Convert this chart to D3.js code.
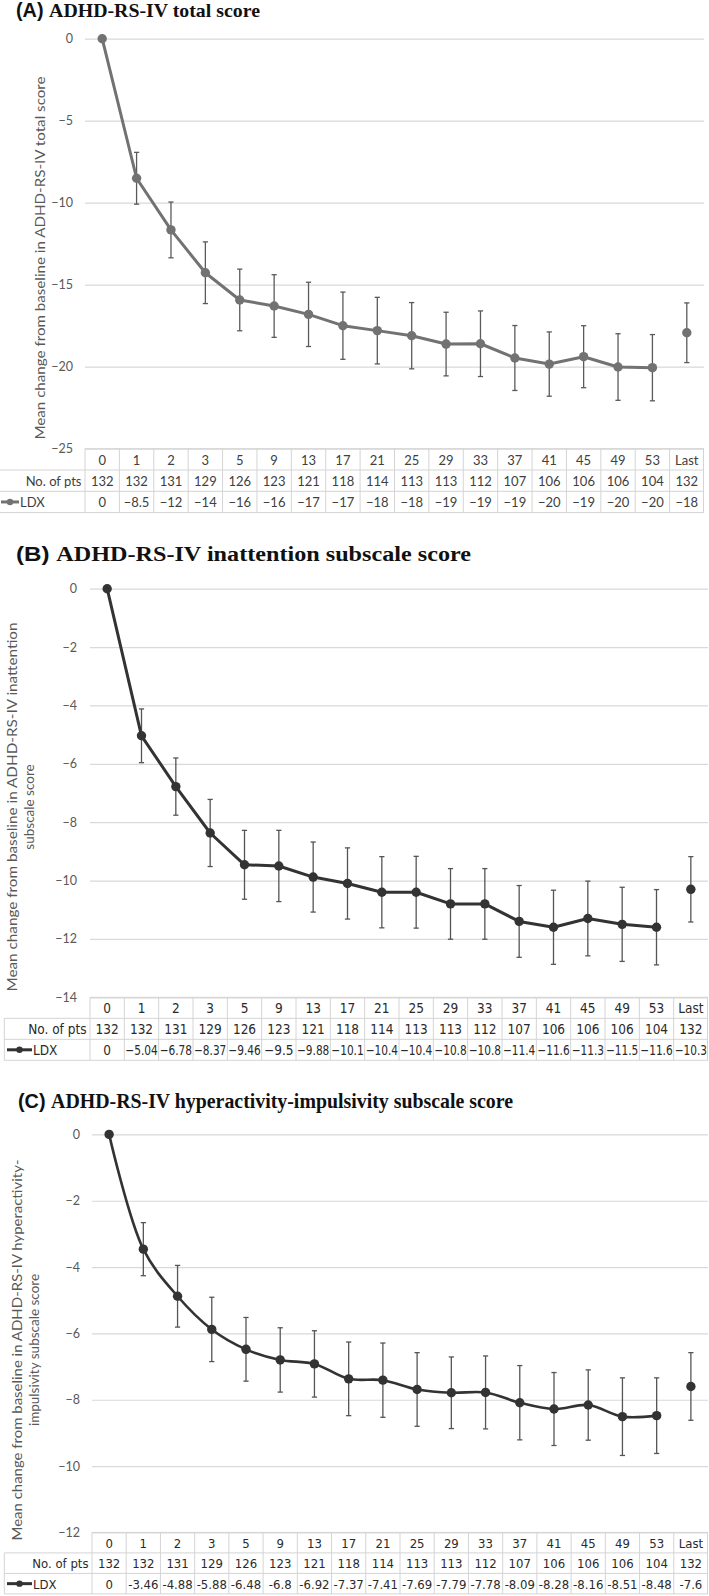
<!DOCTYPE html>
<html><head><meta charset="utf-8">
<script src="https://cdn.jsdelivr.net/npm/d3@7"></script>
<style>body{margin:0;background:#fff}svg{display:block}</style>
</head><body><svg id="c"></svg>
<script>
// ---------- data ----------
const weeks = ["0","1","2","3","5","9","13","17","21","25","29","33","37","41","45","49","53","Last"];
const nPts = [132,132,131,129,126,123,121,118,114,113,113,112,107,106,106,106,104,132];

const totalMean = [0,-8.51,-11.66,-14.27,-15.93,-16.30,-16.81,-17.50,-17.80,-18.11,-18.62,-18.60,-19.47,-19.84,-19.39,-20.02,-20.06,-17.93];
const totalErr  = [0,1.58,1.70,1.88,1.88,1.91,1.96,2.05,2.03,2.02,1.94,2.00,1.98,1.96,1.89,2.03,2.02,1.82];
const totalLabels = ["0","−8.5","−12","−14","−16","−16","−17","−17","−18","−18","−19","−19","−19","−20","−19","−20","−20","−18"];
const totalTicks = [0,-5,-10,-15,-20,-25];

const inattMean = [0,-5.04,-6.78,-8.37,-9.46,-9.5,-9.88,-10.1,-10.4,-10.4,-10.8,-10.8,-11.4,-11.6,-11.3,-11.5,-11.6,-10.3];
const inattErr  = [0,0.92,0.98,1.15,1.18,1.22,1.20,1.22,1.22,1.23,1.21,1.21,1.23,1.27,1.28,1.27,1.29,1.12];
const inattLabels = ["0","−5.04","−6.78","−8.37","−9.46","−9.5","−9.88","−10.1","−10.4","−10.4","−10.8","−10.8","−11.4","−11.6","−11.3","−11.5","−11.6","−10.3"];
const inattTicks = [0,-2,-4,-6,-8,-10,-12,-14];

const hyperMean = [0,-3.46,-4.88,-5.88,-6.48,-6.8,-6.92,-7.37,-7.41,-7.69,-7.79,-7.78,-8.09,-8.28,-8.16,-8.51,-8.48,-7.6];
const hyperErr  = [0,0.80,0.93,0.97,0.96,0.97,1.00,1.11,1.12,1.11,1.08,1.10,1.12,1.10,1.06,1.17,1.14,1.02];
const hyperLabels = ["0","-3.46","-4.88","-5.88","-6.48","-6.8","-6.92","-7.37","-7.41","-7.69","-7.79","-7.78","-8.09","-8.28","-8.16","-8.51","-8.48","-7.6"];
const hyperTicks = [0,-2,-4,-6,-8,-10,-12];

// ---------- drawing ----------
const W = 709, H = 1596;
const svg = d3.select("#c").attr("width", W).attr("height", H);
svg.append("rect").attr("width", W).attr("height", H).attr("fill", "#fff");

const sansFont = "Lato, 'Open Sans', sans-serif";
const narrowFont = "'Liberation Sans Narrow', 'DejaVu Sans Condensed', 'Arial Narrow', sans-serif";

function drawPanel(p) {
  const g = svg.append("g");
  const x = d3.scaleBand().domain(weeks).range([p.left, p.right]).padding(0);
  const y = d3.scaleLinear().domain([p.yMin, 0]).range([p.bottom, p.top]);
  const cx = d => x(d) + x.bandwidth() / 2;

  // title
  const t = g.append("text").attr("x", p.titleX).attr("y", p.titleY)
    .attr("font-size", p.titleSize).attr("font-weight", "bold").attr("fill", "#111")
    .attr("textLength", p.titleLen).attr("lengthAdjust", "spacingAndGlyphs");
  t.append("tspan").attr("font-family", "'Liberation Sans', Arial, sans-serif").text(p.letter + " ");
  t.append("tspan").attr("font-family", "'Liberation Serif', 'Times New Roman', serif").text(p.title);

  // gridlines and tick labels
  const ax = g.append("g").attr("transform", `translate(${p.left},0)`)
    .call(d3.axisLeft(y).tickValues(p.ticks).tickSize(-(p.right - p.left)).tickPadding(p.tickPad)
      .tickFormat(d => d === 0 ? "0" : "−" + Math.abs(d)));
  ax.select(".domain").remove();
  ax.selectAll(".tick line").attr("stroke", "#d9d9d9").attr("stroke-width", 1.2);
  ax.selectAll(".tick text").attr("font-family", sansFont).attr("font-size", 12.5)
    .attr("fill", "#595959");

  // axis title
  p.axisTitle.forEach(l => {
    const tt = g.append("text")
      .attr("transform", `translate(${l.x},${l.y}) rotate(-90)`)
      .attr("text-anchor", "middle").attr("dominant-baseline", "central")
      .attr("font-family", sansFont).attr("font-size", 13.5).attr("fill", "#595959")
      .text(l.text);
    if (l.len) tt.attr("textLength", l.len).attr("lengthAdjust", "spacingAndGlyphs");
  });

  // series
  const pts = weeks.map((w, i) => ({w, v: p.mean[i], e: p.err[i]}));
  const linePts = pts.slice(0, weeks.length - 1);
  const line = d3.line().x(d => cx(d.w)).y(d => y(d.v)).curve(p.curve);
  // error bars
  const eb = g.append("g").attr("stroke", p.errColor).attr("stroke-width", 1.3);
  pts.filter(d => d.e > 0).forEach(d => {
    const X = cx(d.w);
    eb.append("line").attr("x1", X).attr("x2", X).attr("y1", y(d.v + d.e)).attr("y2", y(d.v - d.e));
    eb.append("line").attr("x1", X - 2.6).attr("x2", X + 2.6).attr("y1", y(d.v + d.e)).attr("y2", y(d.v + d.e));
    eb.append("line").attr("x1", X - 2.6).attr("x2", X + 2.6).attr("y1", y(d.v - d.e)).attr("y2", y(d.v - d.e));
  });
  g.append("path").datum(linePts).attr("d", line).attr("fill", "none")
    .attr("stroke", p.color).attr("stroke-width", p.lineWidth).attr("stroke-linejoin", "round");
  g.append("g").selectAll("circle").data(pts).join("circle")
    .attr("cx", d => cx(d.w)).attr("cy", d => y(d.v)).attr("r", 4.7).attr("fill", p.color);

  // data table
  const r0 = p.bottom, rh = p.rowH;
  const tb = g.append("g").attr("stroke", "#d4d4d4").attr("stroke-width", 1);
  tb.append("line").attr("x1", p.left).attr("x2", p.right).attr("y1", r0).attr("y2", r0);
  [1, 2, 3].forEach(i => tb.append("line").attr("x1", p.tableLeft).attr("x2", p.right)
    .attr("y1", r0 + i * rh).attr("y2", r0 + i * rh));
  weeks.forEach(w => tb.append("line").attr("x1", x(w)).attr("x2", x(w)).attr("y1", r0).attr("y2", r0 + 3 * rh));
  tb.append("line").attr("x1", p.right - 0.5).attr("x2", p.right - 0.5).attr("y1", r0).attr("y2", r0 + 3 * rh);
  if (p.tableLeft > 0)
    tb.append("line").attr("x1", p.tableLeft).attr("x2", p.tableLeft).attr("y1", r0 + rh).attr("y2", r0 + 3 * rh);

  const tt = g.append("g").attr("font-family", p.tableFont).attr("font-size", p.tableSize)
    .attr("fill", p.tableColor).attr("text-anchor", "middle").attr("dominant-baseline", "central");
  const fit = sel => sel.each(function () {
    const len = this.getComputedTextLength();
    if (len > x.bandwidth() - 2) d3.select(this).attr("textLength", x.bandwidth() - 2).attr("lengthAdjust", "spacingAndGlyphs");
  });
  tt.selectAll(".hd").data(weeks).join("text").attr("x", cx).attr("y", r0 + rh / 2 + 0.5).text(d => d);
  tt.selectAll(".np").data(weeks).join("text").attr("x", cx).attr("y", r0 + 1.5 * rh + 0.5)
    .text((d, i) => nPts[i]);
  tt.selectAll(".vl").data(weeks).join("text").attr("x", cx).attr("y", r0 + 2.5 * rh + 0.5)
    .text((d, i) => p.labels[i]).call(fit);
  tt.append("text").attr("x", p.left - 3.5).attr("y", r0 + 1.5 * rh + 0.5).attr("text-anchor", "end").text("No. of pts");
  // legend key
  const ky = r0 + 2.5 * rh;
  g.append("line").attr("x1", p.keyX1).attr("x2", p.keyX2).attr("y1", ky).attr("y2", ky)
    .attr("stroke", p.color).attr("stroke-width", 3);
  g.append("circle").attr("cx", (p.keyX1 + p.keyX2) / 2).attr("cy", ky).attr("r", 3.2).attr("fill", p.color);
  tt.append("text").attr("x", p.keyX2 + 1).attr("y", ky + 0.5).attr("text-anchor", "start").text("LDX");
}

drawPanel({
  letter: "(A)", title: "ADHD-RS-IV total score", titleX: 16, titleY: 17, titleSize: 19.5, titleLen: 244,
  left: 85, right: 704, top: 38.7, bottom: 448.7, yMin: -25, ticks: totalTicks, tickPad: 12,
  axisTitle: [{text: "Mean change from baseline in ADHD-RS-IV total score", x: 40, y: 258, len: 363}],
  mean: totalMean, err: totalErr, labels: totalLabels,
  color: "#727272", errColor: "#5a5a5a", lineWidth: 3, curve: d3.curveLinear,
  rowH: 21.3, tableLeft: 0, tableFont: sansFont, tableSize: 13, tableColor: "#404040",
  keyX1: 1, keyX2: 19
});

drawPanel({
  letter: "(B)", title: "ADHD-RS-IV inattention subscale score", titleX: 16, titleY: 561, titleSize: 20.5, titleLen: 455,
  left: 90, right: 708, top: 588.7, bottom: 997.3, yMin: -14, ticks: inattTicks, tickPad: 13,
  axisTitle: [{text: "Mean change from baseline in ADHD-RS-IV inattention", x: 12, y: 807, len: 369},
              {text: "subscale score", x: 29, y: 807}],
  mean: inattMean, err: inattErr, labels: inattLabels,
  color: "#333333", errColor: "#555555", lineWidth: 3, curve: d3.curveLinear,
  rowH: 21, tableLeft: 4.3, tableFont: narrowFont, tableSize: 13.5, tableColor: "#2a2a2a",
  keyX1: 7, keyX2: 32
});

drawPanel({
  letter: "(C)", title: "ADHD-RS-IV hyperactivity-impulsivity subscale score", titleX: 18, titleY: 1108, titleSize: 21, titleLen: 495,
  left: 92, right: 708, top: 1134.4, bottom: 1532.4, yMin: -12, ticks: hyperTicks, tickPad: 12,
  axisTitle: [{text: "Mean change from baseline in ADHD-RS-IV hyperactivity-", x: 17, y: 1350, len: 381},
              {text: "impulsivity subscale score", x: 34, y: 1350}],
  mean: hyperMean, err: hyperErr, labels: hyperLabels,
  color: "#333333", errColor: "#555555", lineWidth: 2.6, curve: d3.curveCatmullRom.alpha(0.5),
  rowH: 20.5, tableLeft: 4.3, tableFont: narrowFont, tableSize: 13, tableColor: "#2a2a2a",
  keyX1: 7, keyX2: 32
});
</script>
</body></html>
